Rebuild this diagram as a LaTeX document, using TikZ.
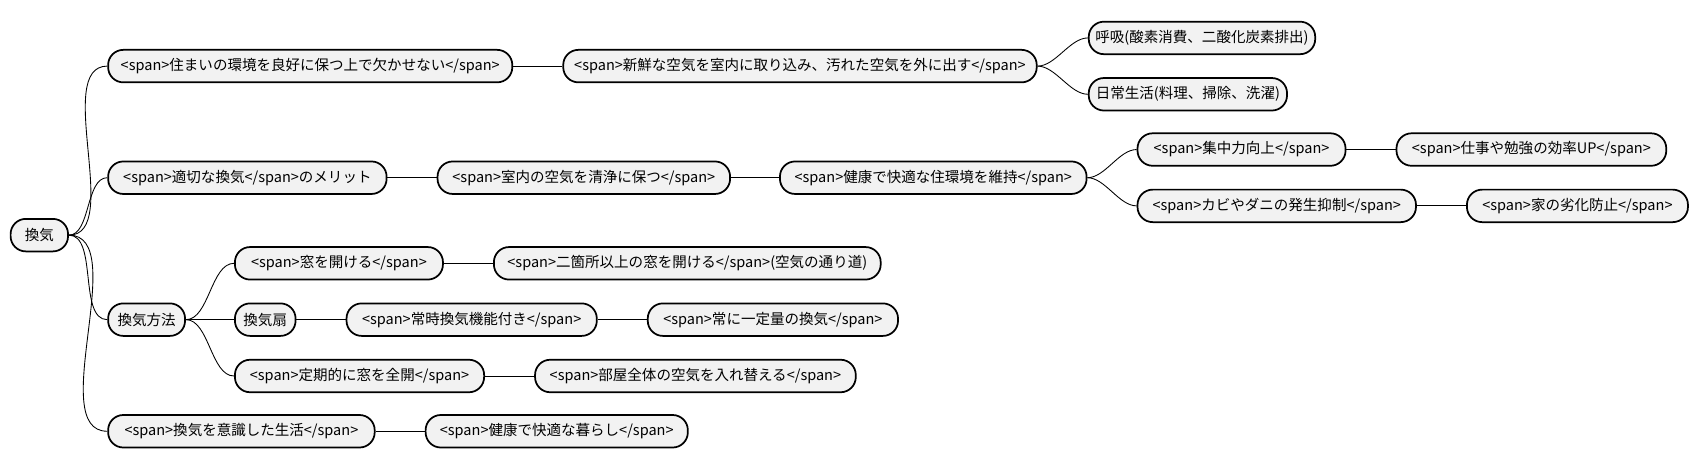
\documentclass[tikz,border=0pt]{standalone}
\usepackage{fontspec}
\setmainfont{Noto Sans CJK JP}
\usetikzlibrary{positioning}
\tikzset{
  box/.style={draw=black,fill=gray!10,rounded corners=7pt,thick,minimum height=15pt,inner sep=0pt,anchor=west,font=\fontsize{6.7pt}{8pt}\selectfont},
  branch/.style={thin,out=0,in=180,looseness=0.8}
}
\newcommand{\bx}[4]{\node[box,minimum width=#3*0.5pt] (#1) at (#2) {#4};}

\begin{document}
\begin{tikzpicture}[x=0.5pt,y=-0.5pt]
  \useasboundingbox (0,0) rectangle (1568,435);
  % root
  \bx{root}{9,217}{53}{換気}
  % first level
  \bx{live}{99,61}{373}{<span>住まいの環境を良好に保つ上で欠かせない</span>}
  \bx{merit}{99,164}{257}{<span>適切な換気</span>のメリット}
  \bx{method}{99,295}{71}{換気方法}
  \bx{life}{99,398}{246}{<span>換気を意識した生活</span>}
  % live
  \bx{fresh}{519,61}{437}{<span>新鮮な空気を室内に取り込み、汚れた空気を外に出す</span>}
  \bx{breath}{1004,35}{209}{呼吸(酸素消費、二酸化炭素排出)}
  \bx{daily}{1004,87}{183}{日常生活(料理、掃除、洗濯)}
  % merit
  \bx{clean}{403,164}{270}{<span>室内の空気を清浄に保つ</span>}
  \bx{health}{719,164}{283}{<span>健康で快適な住環境を維持</span>}
  \bx{focus}{1049,138}{192}{<span>集中力向上</span>}
  \bx{work}{1288,138}{249}{<span>仕事や勉強の効率UP</span>}
  \bx{mold}{1049,190}{257}{<span>カビやダニの発生抑制</span>}
  \bx{house}{1353,190}{204}{<span>家の劣化防止</span>}
  % method
  \bx{open}{216,243}{192}{<span>窓を開ける</span>}
  \bx{two}{455,243}{357}{<span>二箇所以上の窓を開ける</span>(空気の通り道)}
  \bx{fan}{216,295}{56}{換気扇}
  \bx{always}{319,295}{231}{<span>常時換気機能付き</span>}
  \bx{const}{597,295}{231}{<span>常に一定量の換気</span>}
  \bx{full}{216,347}{230}{<span>定期的に窓を全開</span>}
  \bx{room}{493,347}{296}{<span>部屋全体の空気を入れ替える</span>}
  % life
  \bx{comfort}{392,398}{242}{<span>健康で快適な暮らし</span>}
  % branches
  \foreach \c in {live,merit,method,life} \draw[branch] (root.east) to (\c.west);
  \foreach \c in {breath,daily} \draw[branch] (fresh.east) to (\c.west);
  \foreach \c in {focus,mold} \draw[branch] (health.east) to (\c.west);
  \foreach \c in {open,fan,full} \draw[branch] (method.east) to (\c.west);
  \draw[thin] (live) -- (fresh);
  \draw[thin] (merit) -- (clean);
  \draw[thin] (clean) -- (health);
  \draw[thin] (focus) -- (work);
  \draw[thin] (mold) -- (house);
  \draw[thin] (open) -- (two);
  \draw[thin] (fan) -- (always);
  \draw[thin] (always) -- (const);
  \draw[thin] (full) -- (room);
  \draw[thin] (life) -- (comfort);
\end{tikzpicture}
\end{document}
